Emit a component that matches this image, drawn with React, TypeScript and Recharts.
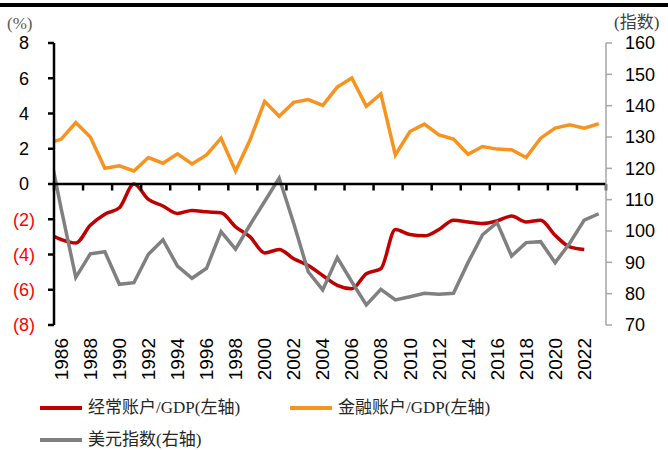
import React from 'react';
import {
  ComposedChart,
  Line,
  XAxis,
  YAxis,
  ReferenceLine,
} from 'recharts';

// years (1985 sits just left of the plot and is clipped, as in the source chart)
const years = [
  1985, 1986, 1987, 1988, 1989, 1990, 1991, 1992, 1993, 1994,
  1995, 1996, 1997, 1998, 1999, 2000, 2001, 2002, 2003, 2004,
  2005, 2006, 2007, 2008, 2009, 2010, 2011, 2012, 2013, 2014,
  2015, 2016, 2017, 2018, 2019, 2020, 2021, 2022, 2023,
];

// current account / GDP, %
const currentAccount = [
  -2.77, -3.15, -3.35, -2.34, -1.71, -1.35, 0.0, -0.87, -1.25, -1.67,
  -1.5, -1.58, -1.63, -2.43, -3.0, -3.91, -3.72, -4.24, -4.62, -5.19,
  -5.75, -5.94, -5.09, -4.81, -2.58, -2.87, -2.94, -2.58, -2.05, -2.15,
  -2.24, -2.09, -1.82, -2.15, -2.05, -2.91, -3.57, -3.72, null,
];

// financial account / GDP, %
const financialAccount = [
  2.27, 2.55, 3.49, 2.66, 0.89, 1.03, 0.74, 1.5, 1.18, 1.71,
  1.14, 1.65, 2.6, 0.74, 2.51, 4.69, 3.84, 4.63, 4.79, 4.46,
  5.5, 6.02, 4.41, 5.11, 1.65, 2.98, 3.4, 2.79, 2.55, 1.69,
  2.13, 1.98, 1.94, 1.5, 2.6, 3.17, 3.36, 3.17, 3.42,
];

// US dollar index
const dollarIndex = [
  130, 107, 85.2, 92.7, 93.4, 83.0, 83.5, 92.6, 97.2, 88.8,
  84.9, 88.1, 99.8, 94.2, 102.0, 109.4, 116.9, 102.5, 87.0, 81.2,
  91.5, 83.8, 76.4, 81.4, 78.0, 79.0, 80.1, 79.8, 80.1, 89.9,
  98.8, 102.7, 92.0, 96.3, 96.6, 89.9, 96.1, 103.5, 105.5,
];

const yearLabels = [
  1986, 1988, 1990, 1992, 1994, 1996, 1998, 2000, 2002, 2004,
  2006, 2008, 2010, 2012, 2014, 2016, 2018, 2020, 2022,
];
const yearBounds = [
  1985.5, 1987.5, 1989.5, 1991.5, 1993.5, 1995.5, 1997.5, 1999.5, 2001.5, 2003.5,
  2005.5, 2007.5, 2009.5, 2011.5, 2013.5, 2015.5, 2017.5, 2019.5, 2021.5, 2023.5,
];
const leftTicks = [-8, -6, -4, -2, 0, 2, 4, 6, 8];
const rightTicks = [70, 80, 90, 100, 110, 120, 130, 140, 150, 160];

const rows = years.map((year, i) => ({
  year,
  ca: currentAccount[i],
  fa: financialAccount[i],
  dxy: dollarIndex[i],
}));

const RED = '#C00000';
const ORANGE = '#F7931E';
const GRAY = '#808080';
const SANS = '"Liberation Sans", Arial, sans-serif';
const SERIF = '"Liberation Serif", "Noto Sans CJK SC", serif';

const LeftTick = (props: any) => {
  const { x, y, payload } = props;
  const v = payload.value;
  const neg = v < 0;
  return (
    <text
      x={neg ? x : x - 6}
      y={y}
      dy="0.35em"
      textAnchor="end"
      fontFamily={SANS}
      fontSize={18}
      fill={neg ? '#FF0000' : '#000'}
    >
      {neg ? `(${Math.abs(v)})` : v}
    </text>
  );
};

const RightTick = (props: any) => {
  const { x, y, payload } = props;
  return (
    <text x={x} y={y} dy="0.35em" textAnchor="start" fontFamily={SANS} fontSize={18} fill="#000">
      {payload.value}
    </text>
  );
};

const YearTick = (props: any) => {
  const { x, y, payload } = props;
  return (
    <text
      x={x}
      y={y}
      dy="0.35em"
      textAnchor="end"
      transform={`rotate(-90, ${x}, ${y})`}
      fontFamily={SANS}
      fontSize={19}
      fill="#000"
    >
      {payload.value}
    </text>
  );
};

const LegendItem = ({ color, label, left, top }: { color: string; label: string; left: number; top: number }) => (
  <div style={{ position: 'absolute', left, top, height: 18, display: 'flex', alignItems: 'center' }}>
    <div style={{ width: 42, height: 4, background: color, marginRight: 6 }} />
    <span style={{ fontFamily: SERIF, fontSize: 17, lineHeight: '18px', color: '#262626', whiteSpace: 'nowrap' }}>{label}</span>
  </div>
);

export default function App() {
  return (
    <div style={{ position: 'absolute', left: 0, top: 0, width: 668, height: 450, background: '#fff', overflow: 'hidden' }}>
      <div style={{ position: 'absolute', left: 0, top: 3, width: 668, height: 3.5, background: '#000' }} />
      <span style={{ position: 'absolute', left: 7, top: 15, fontFamily: SERIF, fontSize: 17, lineHeight: '18px', color: '#595959' }}>(%)</span>
      <span style={{ position: 'absolute', left: 614, top: 14, fontFamily: SERIF, fontSize: 17, lineHeight: '18px', color: '#404040' }}>(指数)</span>

      <ComposedChart width={668} height={450} data={rows} margin={{ top: 43, right: 0, bottom: 0, left: 0 }}>
        <XAxis
          dataKey="year"
          type="number"
          domain={[1985.5, 2023.5]}
          allowDataOverflow
          ticks={yearLabels}
          interval={0}
          axisLine={false}
          tickLine={false}
          tickSize={0}
          tickMargin={13}
          height={125}
          tick={<YearTick />}
        />
        <YAxis
          yAxisId="left"
          width={54}
          domain={[-8, 8]}
          ticks={leftTicks}
          interval={0}
          axisLine={{ stroke: '#000', strokeWidth: 2.5 }}
          tickLine={{ stroke: '#000', strokeWidth: 2.5 }}
          tickSize={6}
          tickMargin={13}
          tick={<LeftTick />}
        />
        <YAxis
          yAxisId="right"
          orientation="right"
          width={62}
          domain={[70, 160]}
          ticks={rightTicks}
          interval={0}
          axisLine={{ stroke: '#A6A6A6', strokeWidth: 1.5 }}
          tickLine={{ stroke: '#A6A6A6', strokeWidth: 1.5 }}
          tickSize={6}
          tickMargin={13}
          tick={<RightTick />}
        />
        <Line yAxisId="left" type="monotone" dataKey="ca" stroke={RED} strokeWidth={3.5} dot={false} isAnimationActive={false} />
        <Line yAxisId="left" type="linear" dataKey="fa" stroke={ORANGE} strokeWidth={3.5} dot={false} isAnimationActive={false} />
        <Line yAxisId="right" type="linear" dataKey="dxy" stroke={GRAY} strokeWidth={3.5} dot={false} isAnimationActive={false} />
        <ReferenceLine yAxisId="left" y={0} stroke="#000" strokeWidth={2.5} />
        {yearBounds.map((b) => (
          <ReferenceLine
            key={b}
            yAxisId="left"
            segment={[{ x: b, y: 0 }, { x: b, y: -0.37 }]}
            stroke="#000"
            strokeWidth={2.5}
          />
        ))}
      </ComposedChart>

      <LegendItem color={RED} label="经常账户/GDP(左轴)" left={40} top={399} />
      <LegendItem color={ORANGE} label="金融账户/GDP(左轴)" left={290} top={399} />
      <LegendItem color={GRAY} label="美元指数(右轴)" left={40} top={431} />
    </div>
  );
}
